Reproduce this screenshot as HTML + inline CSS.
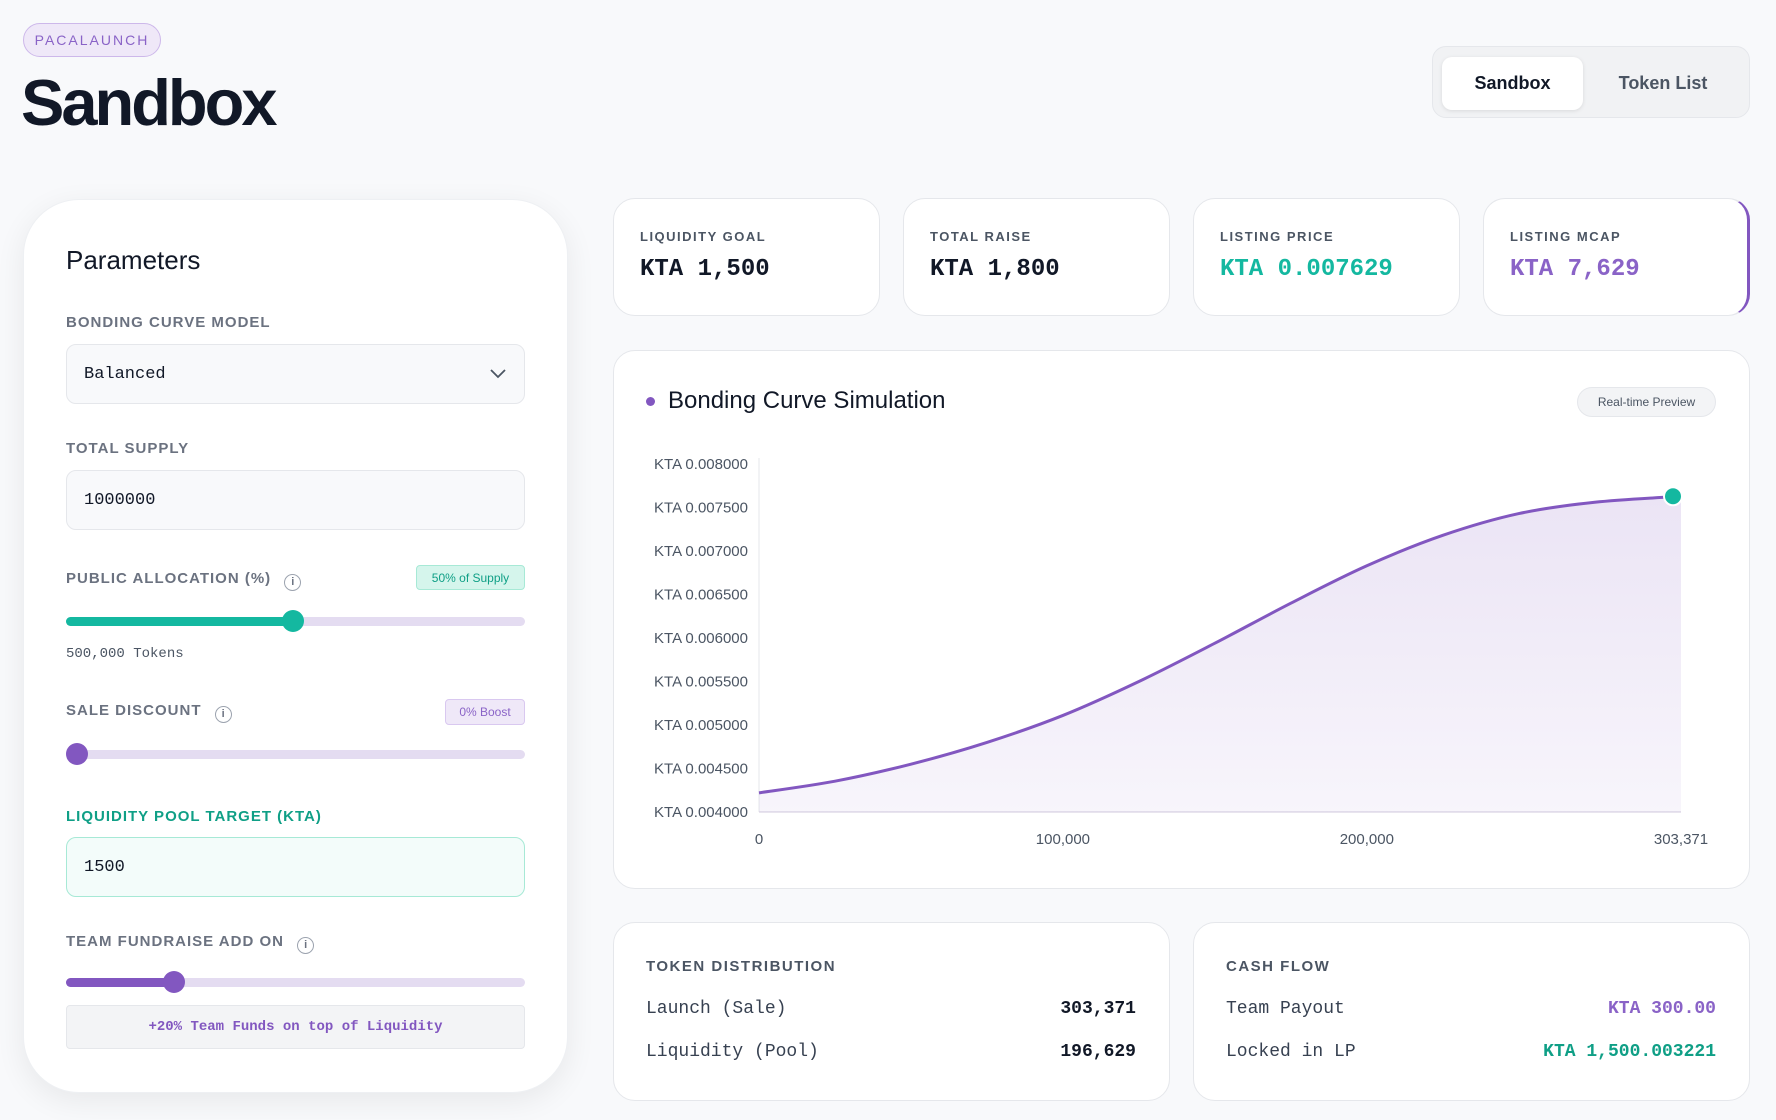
<!DOCTYPE html>
<html><head><meta charset="utf-8">
<style>
*{box-sizing:border-box;margin:0;padding:0}
body{width:1776px;height:1120px;background:#f8f9fb;font-family:"Liberation Sans",sans-serif;position:relative;overflow:hidden;color:#111827}
.abs{position:absolute}
.badge{left:23px;top:23px;width:138px;height:34px;border:1px solid #cdb8ea;background:#efe8f8;border-radius:17px;color:#8a63c7;font-size:14px;letter-spacing:2px;display:flex;align-items:center;justify-content:center}
.title{left:21px;top:65px;font-size:65px;font-weight:bold;letter-spacing:-3px;color:#111827}
.tabs{left:1432px;top:46px;width:318px;height:72px;background:#f1f2f4;border:1px solid #e5e7eb;border-radius:14px}
.tab{position:absolute;top:10px;height:53px;border-radius:10px;font-size:18px;font-weight:bold;display:flex;align-items:center;justify-content:center}
.panel{left:23px;top:199px;width:545px;height:894px;background:#fff;border-radius:56px;box-shadow:0 8px 30px rgba(0,0,0,.07);border:1px solid #eef0f3}
.lbl{font-size:15px;font-weight:bold;letter-spacing:1px;color:#6b7280}
.inp{left:66px;width:459px;height:60px;border:1px solid #e5e7eb;border-radius:10px;background:#f8f9fb;font-family:"Liberation Mono",monospace;font-size:17px;padding-left:17px;display:flex;align-items:center}
.track{left:66px;width:459px;height:9px;border-radius:5px;background:#e4dcf1}
.thumb{width:22px;height:22px;border-radius:50%}
.card{background:#fff;border:1px solid #e5e7eb;border-radius:22px}
.sl{font-size:13px;font-weight:bold;letter-spacing:1.5px;color:#4b5563}
.sv{font-family:"Liberation Mono",monospace;font-size:24px;font-weight:bold}
.row{font-family:"Liberation Mono",monospace;font-size:18px}
</style></head><body>
<div class="abs badge">PACALAUNCH</div>
<div class="abs title">Sandbox</div>
<div class="abs tabs">
 <div class="tab" style="left:9px;width:141px;background:#fff;box-shadow:0 1px 4px rgba(0,0,0,.1);color:#111827">Sandbox</div>
 <div class="tab" style="left:155px;width:150px;color:#4b5563">Token List</div>
</div>

<div class="abs panel"></div>
<div class="abs" style="left:66px;top:245px;font-size:26px;color:#111827">Parameters</div>
<div class="abs lbl" style="left:66px;top:314px">BONDING CURVE MODEL</div>
<div class="abs inp" style="top:344px">Balanced<svg style="position:absolute;right:18px;top:24px" width="16" height="10"><path d="M1 1 L8 8 L15 1" fill="none" stroke="#4b5563" stroke-width="1.8"/></svg></div>
<div class="abs lbl" style="left:66px;top:440px">TOTAL SUPPLY</div>
<div class="abs inp" style="top:470px">1000000</div>

<div class="abs lbl" style="left:66px;top:570px">PUBLIC ALLOCATION (%) <span style="display:inline-block;width:17px;height:17px;border:1.5px solid #9ca3af;border-radius:50%;font-size:11px;text-align:center;line-height:14px;margin-left:8px;vertical-align:-2px;letter-spacing:0">i</span></div>
<div class="abs" style="left:416px;top:565px;width:109px;height:25px;background:#d5f5ec;border:1px solid #a7e9d6;border-radius:4px;color:#0f9f86;font-size:12px;display:flex;align-items:center;justify-content:center">50% of Supply</div>
<div class="abs track" style="top:617px"><div style="width:227px;height:9px;border-radius:5px;background:#14b8a0"></div></div>
<div class="abs thumb" style="left:282px;top:610px;background:#14b8a0"></div>
<div class="abs" style="left:66px;top:646px;font-family:'Liberation Mono',monospace;font-size:14px;color:#4b5563">500,000 Tokens</div>

<div class="abs lbl" style="left:66px;top:702px">SALE DISCOUNT <span style="display:inline-block;width:17px;height:17px;border:1.5px solid #9ca3af;border-radius:50%;font-size:11px;text-align:center;line-height:14px;margin-left:8px;vertical-align:-2px;letter-spacing:0">i</span></div>
<div class="abs" style="left:445px;top:699px;width:80px;height:26px;background:#efe8f8;border:1px solid #d9c8f0;border-radius:4px;color:#8a63c7;font-size:12px;display:flex;align-items:center;justify-content:center">0% Boost</div>
<div class="abs track" style="top:750px"></div>
<div class="abs thumb" style="left:66px;top:743px;background:#8257c0"></div>

<div class="abs lbl" style="left:66px;top:808px;color:#0f9f86">LIQUIDITY POOL TARGET (KTA)</div>
<div class="abs inp" style="top:837px;background:#f3fcfa;border-color:#a7e9d6">1500</div>

<div class="abs lbl" style="left:66px;top:933px">TEAM FUNDRAISE ADD ON <span style="display:inline-block;width:17px;height:17px;border:1.5px solid #9ca3af;border-radius:50%;font-size:11px;text-align:center;line-height:14px;margin-left:8px;vertical-align:-2px;letter-spacing:0">i</span></div>
<div class="abs track" style="top:978px"><div style="width:107px;height:9px;border-radius:5px;background:#8257c0"></div></div>
<div class="abs thumb" style="left:163px;top:971px;background:#8257c0"></div>
<div class="abs" style="left:66px;top:1005px;width:459px;height:44px;background:#f3f4f6;border:1px solid #e5e7eb;border-radius:4px;color:#8257c0;font-family:'Liberation Mono',monospace;font-size:14px;font-weight:bold;display:flex;align-items:center;justify-content:center">+20% Team Funds on top of Liquidity</div>

<div class="abs card" style="left:613px;top:198px;width:267px;height:118px"></div>
<div class="abs sl" style="left:640px;top:229px">LIQUIDITY GOAL</div>
<div class="abs sv" style="left:640px;top:256px">KTA 1,500</div>
<div class="abs card" style="left:903px;top:198px;width:267px;height:118px"></div>
<div class="abs sl" style="left:930px;top:229px">TOTAL RAISE</div>
<div class="abs sv" style="left:930px;top:256px">KTA 1,800</div>
<div class="abs card" style="left:1193px;top:198px;width:267px;height:118px"></div>
<div class="abs sl" style="left:1220px;top:229px">LISTING PRICE</div>
<div class="abs sv" style="left:1220px;top:256px;color:#14b8a0">KTA 0.007629</div>
<div class="abs card" style="left:1483px;top:198px;width:267px;height:118px;border-right:3px solid #8257c0"></div>
<div class="abs sl" style="left:1510px;top:229px">LISTING MCAP</div>
<div class="abs sv" style="left:1510px;top:256px;color:#8a63c7">KTA 7,629</div>

<div class="abs card" style="left:613px;top:350px;width:1137px;height:539px"></div>
<div class="abs" style="left:646px;top:397px;width:9px;height:9px;border-radius:50%;background:#8257c0"></div>
<div class="abs" style="left:668px;top:387px;font-size:24px;color:#111827">Bonding Curve Simulation</div>
<div class="abs" style="left:1577px;top:387px;width:139px;height:30px;border:1px solid #e5e7eb;background:#f3f4f6;border-radius:15px;font-size:12px;color:#4b5563;display:flex;align-items:center;justify-content:center">Real-time Preview</div>
<svg class="abs" style="left:0;top:0" width="1776" height="1120" id="chart">
<defs><linearGradient id="g" x1="0" y1="0" x2="0" y2="1"><stop offset="0" stop-color="#8257c0" stop-opacity=".16"/><stop offset="1" stop-color="#8257c0" stop-opacity=".06"/></linearGradient></defs>
</svg>

<div class="abs card" style="left:613px;top:922px;width:557px;height:179px"></div>
<div class="abs sl" style="left:646px;top:958px;font-size:15px">TOKEN DISTRIBUTION</div>
<div class="abs row" style="left:646px;top:999px;color:#374151">Launch (Sale)</div>
<div class="abs row" style="right:640px;top:999px;font-weight:bold">303,371</div>
<div class="abs row" style="left:646px;top:1042px;color:#374151">Liquidity (Pool)</div>
<div class="abs row" style="right:640px;top:1042px;font-weight:bold">196,629</div>

<div class="abs card" style="left:1193px;top:922px;width:557px;height:179px"></div>
<div class="abs sl" style="left:1226px;top:958px;font-size:15px">CASH FLOW</div>
<div class="abs row" style="left:1226px;top:999px;color:#374151">Team Payout</div>
<div class="abs row" style="right:60px;top:999px;font-weight:bold;color:#8a63c7">KTA 300.00</div>
<div class="abs row" style="left:1226px;top:1042px;color:#374151">Locked in LP</div>
<div class="abs row" style="right:60px;top:1042px;font-weight:bold;color:#0f9f86">KTA 1,500.003221</div>

<script>
const supplyValues=[0,25000,50000,75000,100000,125000,150000,175000,200000,225000,250000,275000,303371];
const priceValues=[0.00422,0.004354,0.00455,0.0048,0.00511,0.0055,0.00594,0.0064,0.00683,0.00718,0.00743,0.00756,0.007629];
const yTicks=[0.004,0.0045,0.005,0.0055,0.006,0.0065,0.007,0.0075,0.008];
const xTicks=[0,100000,200000,303371];
const NS="http://www.w3.org/2000/svg";
const svg=document.getElementById('chart');
const X0=759,X1=1681,Y0=812,Y1=464,XMAX=303371,YMIN=0.004,YMAX=0.008;
const sx=v=>X0+v/XMAX*(X1-X0);
const sy=v=>Y0-(v-YMIN)/(YMAX-YMIN)*(Y0-Y1);
function mk(t,a){const e=document.createElementNS(NS,t);for(const k in a)e.setAttribute(k,a[k]);svg.appendChild(e);return e;}
let ax=mk('line',{x1:X0,y1:Y1-6,x2:X0,y2:Y0,stroke:'#e5e7eb'});


let bx=mk('line',{x1:X0,y1:Y0,x2:X1,y2:Y0,stroke:'#e0dbe8','stroke-width':1.5});


yTicks.forEach(v=>{const t=mk('text',{x:748,y:sy(v)+5,'text-anchor':'end','font-size':15,fill:'#4b5563','font-family':'Liberation Sans'});t.textContent='KTA '+v.toFixed(6);

});
xTicks.forEach(v=>{const t=mk('text',{x:sx(v),y:844,'text-anchor':'middle','font-size':15,fill:'#4b5563','font-family':'Liberation Sans'});t.textContent=v.toLocaleString('en-US');

});
const pts=supplyValues.map((s,i)=>[sx(s),sy(priceValues[i])]);
function smooth(p){let d='M'+p[0][0]+' '+p[0][1];for(let i=0;i<p.length-1;i++){const p0=p[i-1]||p[i],p1=p[i],p2=p[i+1],p3=p[i+2]||p2;d+=' C'+(p1[0]+(p2[0]-p0[0])/6)+' '+(p1[1]+(p2[1]-p0[1])/6)+' '+(p2[0]-(p3[0]-p1[0])/6)+' '+(p2[1]-(p3[1]-p1[1])/6)+' '+p2[0]+' '+p2[1];}return d;}
const d=smooth(pts);
let area=mk('path',{d:d+' L'+pts[pts.length-1][0]+' '+Y0+' L'+X0+' '+Y0+' Z',fill:'url(#g)'});


let line=mk('path',{d:d,fill:'none',stroke:'#8257c0','stroke-width':3});


const last=pts[pts.length-1];
let dot=mk('circle',{cx:last[0]-8,cy:last[1],r:9,fill:'#14b8a0',stroke:'#fff','stroke-width':2});


</script>
</body></html>
